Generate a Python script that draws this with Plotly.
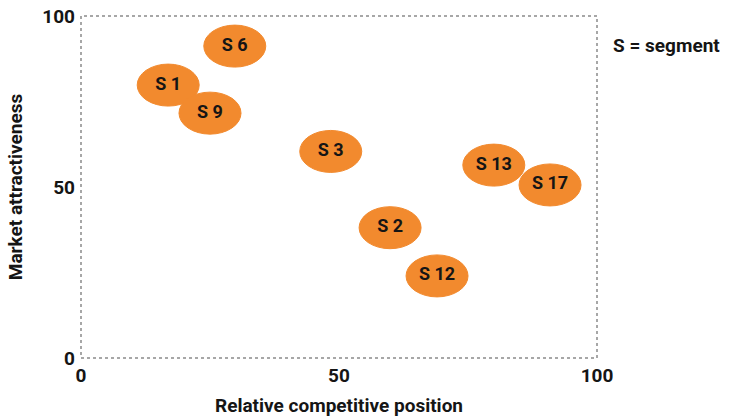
import plotly.graph_objects as go

segments = ["S 6", "S 1", "S 9", "S 3", "S 13", "S 17", "S 2", "S 12"]
competitive_position = [29.8, 16.9, 25.0, 48.4, 80.0, 90.9, 59.9, 69.0]
market_attractiveness = [91.2, 79.8, 71.6, 60.4, 56.4, 50.6, 38.1, 24.0]
tick_vals = [0, 50, 100]
tick_text = ["0", "50", "100"]

FONT = "Roboto, Liberation Sans, sans-serif"
ORANGE = "#F28A2E"
FS = 19

fig = go.Figure()

shapes = []
for x, y in zip(competitive_position, market_attractiveness):
    shapes.append(dict(
        type="circle", xref="x", yref="y",
        xsizemode="pixel", ysizemode="pixel",
        xanchor=x, yanchor=y,
        x0=-31, x1=31, y0=-21, y1=21,
        fillcolor=ORANGE, line=dict(color=ORANGE, width=1),
        layer="below",
    ))
shapes.append(dict(
    type="rect", xref="paper", yref="paper", x0=0, x1=1, y0=0, y1=1,
    line=dict(color="#8a8a8a", width=1.5, dash="dot"),
))

fig.add_trace(go.Scatter(
    x=competitive_position, y=market_attractiveness, mode="text",
    text=segments, textposition="middle center",
    textfont=dict(family=FONT, size=18, color="#151515", weight="bold"),
    hoverinfo="skip", showlegend=False,
))

fig.update_layout(
    width=729, height=418,
    margin=dict(l=81, r=132, t=16, b=60),
    paper_bgcolor="white", plot_bgcolor="white",
    shapes=shapes,
    font=dict(family=FONT, size=FS, color="#151515", weight="bold"),
    xaxis=dict(range=[0, 100], tickvals=tick_vals, ticktext=tick_text,
               showgrid=False, zeroline=False, showline=False, ticks="",
               ticklabelstandoff=4, automargin=False,
               title=dict(text="Relative competitive position", standoff=12,
                          font=dict(family=FONT, size=FS, weight="bold")),
               tickfont=dict(family=FONT, size=FS, weight="bold"), fixedrange=True),
    yaxis=dict(range=[0, 100], tickvals=tick_vals, ticktext=tick_text,
               showgrid=False, zeroline=False, showline=False, ticks="",
               ticklabelstandoff=5, automargin=False,
               title=dict(text="Market attractiveness", standoff=14,
                          font=dict(family=FONT, size=FS, weight="bold")),
               tickfont=dict(family=FONT, size=FS, weight="bold"), fixedrange=True),
    annotations=[dict(
        text="S = segment", xref="paper", yref="paper", x=1.0, y=0.915,
        xanchor="left", yanchor="middle", xshift=14, showarrow=False,
        font=dict(family=FONT, size=FS, weight="bold", color="#151515"),
    )],
)

fig.write_html("out.html")
